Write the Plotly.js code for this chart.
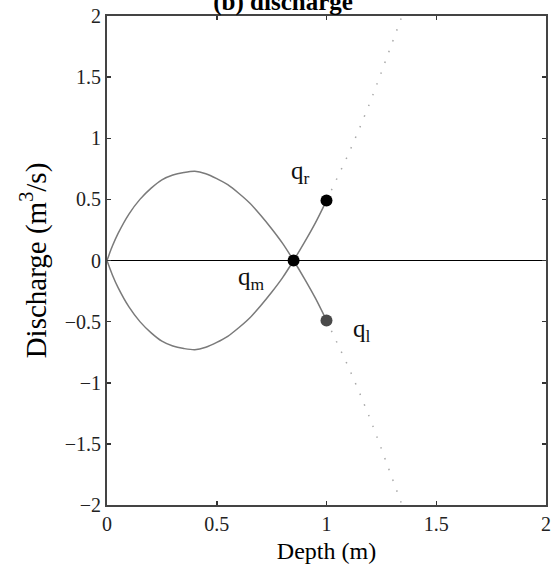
<!DOCTYPE html>
<html>
<head>
<meta charset="utf-8">
<script src="https://cdn.plot.ly/plotly-3.0.1.min.js"></script>
<style>
  html, body { margin: 0; padding: 0; background: #ffffff; }
  #chart { width: 555px; height: 579px; }
</style>
</head>
<body>
<div id="chart"></div>
<script>
// Depth samples (m) along the solid integral curves
const depthSolid = [0, 0.01, 0.025, 0.05, 0.1, 0.15, 0.2, 0.25, 0.3, 0.35, 0.4, 0.45,
                    0.5, 0.55, 0.6, 0.65, 0.7, 0.75, 0.8, 0.85, 0.9, 0.95, 1.0];
// Discharge (m^3/s) on the upper lobe, continuing down to q_l
const upperQ = [0, 0.05, 0.12, 0.22, 0.38, 0.50, 0.59, 0.66, 0.70, 0.72, 0.73, 0.71,
                0.67, 0.62, 0.55, 0.47, 0.37, 0.26, 0.14, 0, -0.15, -0.31, -0.49];
// Discharge (m^3/s) on the lower lobe, continuing up to q_r
const lowerQ = [0, -0.05, -0.12, -0.22, -0.38, -0.50, -0.59, -0.66, -0.70, -0.72, -0.73, -0.71,
                -0.67, -0.62, -0.55, -0.47, -0.37, -0.26, -0.14, 0, 0.15, 0.31, 0.49];

// Dotted extensions beyond depth 1 m
const depthDotted = [1.0, 1.05, 1.1, 1.15, 1.2, 1.25, 1.3, 1.35];
const riseQ = [0.49, 0.68, 0.87, 1.08, 1.30, 1.54, 1.78, 2.03];
const fallQ = [-0.49, -0.68, -0.87, -1.08, -1.30, -1.54, -1.78, -2.03];

// States: middle, right, left
const stateDepth = [0.85, 1.0, 1.0];
const stateQ = [0, 0.49, -0.49];
const stateColor = ['#000000', '#000000', '#4a4a4a'];

// Axis ticks
const xTicks = [0, 0.5, 1, 1.5, 2];
const xTickText = ['0', '0.5', '1', '1.5', '2'];
const yTicks = [-2, -1.5, -1, -0.5, 0, 0.5, 1, 1.5, 2];
const yTickText = ['\u22122', '\u22121.5', '\u22121', '\u22120.5', '0', '0.5', '1', '1.5', '2'];

const serif = 'Liberation Serif, Times New Roman, serif';
const curveColor = '#7a7a7a';
const dotColor = '#a8a8a8';

const traces = [
  { x: depthSolid, y: upperQ, mode: 'lines', line: { color: curveColor, width: 1.5, shape: 'spline', smoothing: 0.8 }, hoverinfo: 'skip' },
  { x: depthSolid, y: lowerQ, mode: 'lines', line: { color: curveColor, width: 1.5, shape: 'spline', smoothing: 0.8 }, hoverinfo: 'skip' },
  { x: depthDotted, y: riseQ, mode: 'lines', line: { color: dotColor, width: 1.5, dash: '1.5px,10px' }, hoverinfo: 'skip' },
  { x: depthDotted, y: fallQ, mode: 'lines', line: { color: dotColor, width: 1.5, dash: '1.5px,10px' }, hoverinfo: 'skip' },
  { x: stateDepth, y: stateQ, mode: 'markers',
    marker: { color: stateColor, size: 12, line: { width: 0 } }, hoverinfo: 'skip' }
];

const labelFont = { family: serif, size: 25, color: '#111111' };

const layout = {
  width: 555,
  height: 579,
  margin: { l: 107, r: 9, t: 16, b: 74 },
  paper_bgcolor: '#ffffff',
  plot_bgcolor: '#ffffff',
  showlegend: false,
  title: {
    text: '<b>(b) discharge</b>',
    font: { family: serif, size: 25, color: '#000000' },
    xref: 'container', x: 0.51, xanchor: 'center',
    yref: 'container', y: 0.998, yanchor: 'middle'
  },
  xaxis: {
    range: [0, 2],
    tickvals: xTicks, ticktext: xTickText,
    ticks: 'inside', ticklen: 4, tickwidth: 1.5, tickcolor: '#333333',
    showline: true, linecolor: '#444444', linewidth: 2, mirror: 'ticks',
    showgrid: false, zeroline: false,
    tickfont: { family: serif, size: 20, color: '#222222' },
    title: { text: 'Depth (m)', font: { family: serif, size: 24, color: '#000000' }, standoff: 8 }
  },
  yaxis: {
    range: [-2, 2],
    tickvals: yTicks, ticktext: yTickText,
    ticks: 'inside', ticklen: 4, tickwidth: 1.5, tickcolor: '#333333',
    showline: true, linecolor: '#444444', linewidth: 2, mirror: 'ticks',
    showgrid: false,
    zeroline: true, zerolinecolor: '#000000', zerolinewidth: 1.5,
    tickfont: { family: serif, size: 20, color: '#222222' },
    title: { text: 'Discharge (m<sup>3</sup>/s)', font: { family: serif, size: 29, color: '#000000' }, standoff: 10 }
  },
  annotations: [
    { x: 0.88, y: 0.72, xref: 'x', yref: 'y', text: 'q<sub>r</sub>', showarrow: false, font: labelFont },
    { x: 1.16, y: -0.57, xref: 'x', yref: 'y', text: 'q<sub>l</sub>', showarrow: false, font: labelFont },
    { x: 0.66, y: -0.15, xref: 'x', yref: 'y', text: 'q<sub>m</sub>', showarrow: false, font: labelFont }
  ]
};

Plotly.newPlot('chart', traces, layout, { displayModeBar: false, staticPlot: true });
</script>
</body>
</html>
